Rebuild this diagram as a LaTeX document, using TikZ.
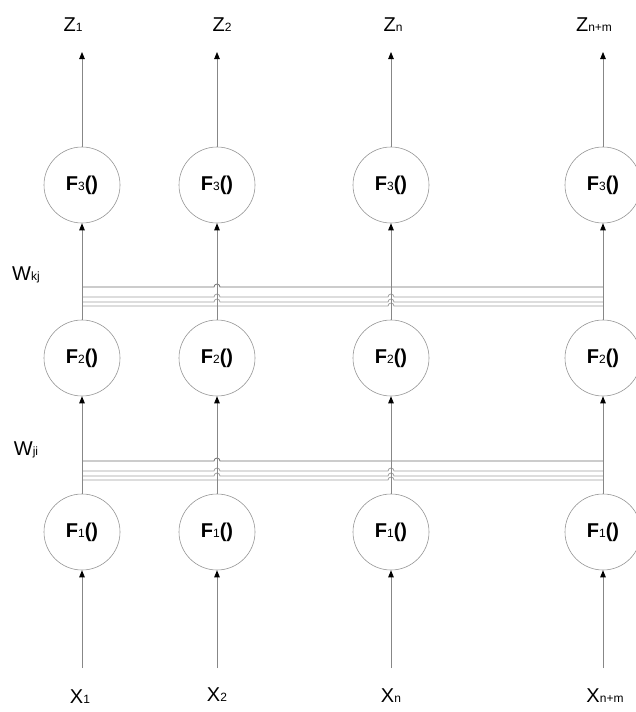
\documentclass[tikz,border=0pt]{standalone}
\usepackage{fontspec}
\setmainfont{Liberation Sans}
\usetikzlibrary{arrows.meta}
\definecolor{vline}{RGB}{135,135,135}
\definecolor{busdark}{RGB}{110,110,110}
\definecolor{buslight}{RGB}{160,160,160}
\definecolor{circ}{RGB}{150,150,150}
\newcommand\smallsub[1]{{\fontsize{12}{12}\selectfont #1}}
\newcommand\fsub[1]{{\fontsize{12}{12}\selectfont\mdseries #1}}
\begin{document}
\begin{tikzpicture}[x=1pt,y=-1pt,
  neuron/.style={circle, draw=circ, line width=0.6pt, minimum size=76pt, inner sep=0pt,
    font=\fontsize{20}{22}\selectfont\bfseries},
  lbl/.style={font=\fontsize{20}{22}\selectfont, inner sep=0pt},
  conn/.style={draw=vline, line width=0.8pt},
  arr/.style={conn, -{Triangle[length=7pt,width=5.5pt,color=black]}},
  busA/.style={draw=busdark, line width=0.8pt},
  busB/.style={draw=buslight, line width=0.8pt}]
\useasboundingbox (0,0) rectangle (635,712);

% neurons
\foreach \n/\x in {a/82,b/217,c/391,d/603}{
  \node[neuron] (f3\n) at (\x,185) {F\fsub{3}()};
  \node[neuron] (f2\n) at (\x,358) {F\fsub{2}()};
  \node[neuron] (f1\n) at (\x,532) {F\fsub{1}()};
  \coordinate (top\n) at (\x,52);
  \coordinate (bot\n) at (\x,668);
}

% labels
\node[lbl] (z1) at (73,25) {Z\smallsub{1}};
\node[lbl] (z2) at (222,25) {Z\smallsub{2}};
\node[lbl] (zn) at (393,25) {Z\smallsub{n}};
\node[lbl] (znm) at (594,25) {Z\smallsub{n+m}};
\node[lbl] (x1) at (80,697) {X\smallsub{1}};
\node[lbl] (x2) at (217,695) {X\smallsub{2}};
\node[lbl] (xn) at (391,696) {X\smallsub{n}};
\node[lbl] (xnm) at (605,696) {X\smallsub{n+m}};
\node[lbl] (wkj) at (26,275) {W\smallsub{kj}};
\node[lbl] (wji) at (26,450) {W\smallsub{ji}};

% buses (upper: 287,297,302,306 ; lower: 461,470,475,480)
\foreach \o in {0,174}{
  \draw[busA] (82,287+\o) -- (214,287+\o) arc[start angle=180,end angle=0,radius=3pt] -- (603,287+\o);
  \draw[busB] (82,297+\o) -- (214,297+\o) arc[start angle=180,end angle=0,radius=3pt]
     -- (388,297+\o) arc[start angle=180,end angle=0,radius=3pt] -- (603,297+\o);
  \draw[busB] (82,302+\o) -- (214,302+\o) arc[start angle=180,end angle=0,radius=3pt]
     -- (388,302+\o) arc[start angle=180,end angle=0,radius=3pt] -- (603,302+\o);
  \draw[busB] (82,306+\o) -- (388,306+\o) arc[start angle=180,end angle=0,radius=3pt] -- (603,306+\o);
}

% vertical connectors
\foreach \n in {a,b,c,d}{
  \draw[arr] (bot\n) -- (f1\n);
  \draw[arr] (f1\n) -- (f2\n);
  \draw[arr] (f2\n) -- (f3\n);
  \draw[arr] (f3\n) -- (top\n);
}
\end{tikzpicture}
\end{document}
